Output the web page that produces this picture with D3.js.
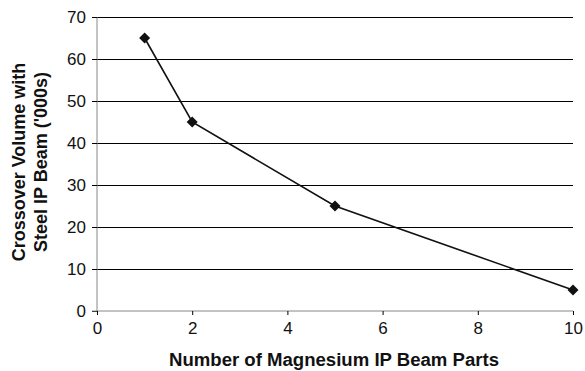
<!DOCTYPE html>
<html>
<head>
<meta charset="utf-8">
<script src="https://cdn.jsdelivr.net/npm/d3@7"></script>
<style>
  body { margin: 0; background: #fff; }
  svg { display: block; font-family: "Liberation Sans", Arial, sans-serif; }
</style>
</head>
<body>
<svg id="chart" width="585" height="371"></svg>
<script>
const parts = [1, 2, 5, 10];
const volume = [65, 45, 25, 5];
const xTicks = [0, 2, 4, 6, 8, 10];
const yTicks = [0, 10, 20, 30, 40, 50, 60, 70];

const svg = d3.select("#chart");
const margin = { left: 97, right: 12, top: 17, bottom: 60 };
const w = 585 - margin.left - margin.right;
const h = 371 - margin.top - margin.bottom;

const x = d3.scaleLinear().domain([0, 10]).range([0, w]);
const y = d3.scaleLinear().domain([0, 70]).range([h, 0]);

const g = svg.append("g").attr("transform", `translate(${margin.left},${margin.top})`);

// horizontal gridlines
g.append("g")
  .selectAll("line")
  .data(yTicks.filter(d => d > 0))
  .join("line")
  .attr("x1", -5)
  .attr("x2", w)
  .attr("y1", d => y(d))
  .attr("y2", d => y(d))
  .attr("stroke", "#000")
  .attr("stroke-width", 1)
  .attr("shape-rendering", "crispEdges");

// y axis
const yAxis = g.append("g")
  .call(d3.axisLeft(y).tickValues(yTicks).tickSize(5).tickPadding(6));
yAxis.select(".domain").attr("stroke", "#888").attr("d", `M0,0V${h}`);
yAxis.selectAll(".tick line").attr("stroke", "#000");
yAxis.selectAll("text").attr("font-size", 17).attr("fill", "#111").attr("font-family", "Liberation Sans, Arial, sans-serif");

// x axis
const xAxis = g.append("g")
  .attr("transform", `translate(0,${h})`)
  .call(d3.axisBottom(x).tickValues(xTicks).tickSize(4).tickPadding(7));
xAxis.select(".domain").attr("stroke", "#888").attr("d", `M-5,0H${w}`);
xAxis.selectAll(".tick line").attr("stroke", "#000");
xAxis.selectAll("text").attr("font-size", 17).attr("fill", "#111").attr("font-family", "Liberation Sans, Arial, sans-serif");

// series line
const pts = parts.map((p, i) => [p, volume[i]]);
g.append("path")
  .datum(pts)
  .attr("fill", "none")
  .attr("stroke", "#111")
  .attr("stroke-width", 1.6)
  .attr("d", d3.line().x(d => x(d[0])).y(d => y(d[1])));

// diamond markers
g.append("g")
  .selectAll("path")
  .data(pts)
  .join("path")
  .attr("transform", d => `translate(${x(d[0])},${y(d[1])})`)
  .attr("d", "M0,-5.5L5.5,0L0,5.5L-5.5,0Z")
  .attr("fill", "#111");

// axis titles
svg.append("text")
  .attr("x", 334)
  .attr("y", 366)
  .attr("text-anchor", "middle")
  .attr("font-size", 18)
  .attr("font-weight", "bold")
  .attr("fill", "#111")
  .attr("textLength", 330)
  .attr("lengthAdjust", "spacingAndGlyphs")
  .text("Number of Magnesium IP Beam Parts");

const yt = svg.append("text")
  .attr("transform", `translate(0,162) rotate(-90)`)
  .attr("text-anchor", "middle")
  .attr("font-size", 18)
  .attr("font-weight", "bold")
  .attr("fill", "#111");
yt.append("tspan").attr("x", 0).attr("y", 25).text("Crossover Volume with");
yt.append("tspan").attr("x", 0).attr("y", 47).text("Steel IP Beam ('000s)");
</script>
</body>
</html>
